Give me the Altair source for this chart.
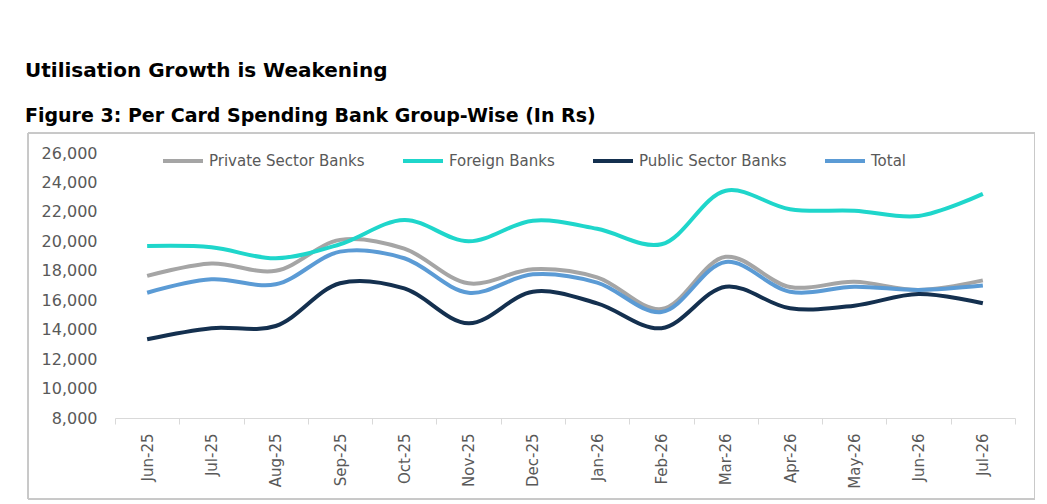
import altair as alt
import pandas as pd

months = ["Jun-25", "Jul-25", "Aug-25", "Sep-25", "Oct-25", "Nov-25", "Dec-25",
          "Jan-26", "Feb-26", "Mar-26", "Apr-26", "May-26", "Jun-26", "Jul-26"]
series_names = ["Private Sector Banks", "Foreign Banks", "Public Sector Banks", "Total"]
private = [17650, 18500, 18000, 20100, 19500, 17150, 18100, 17550, 15400, 18950, 16900, 17250, 16700, 17350]
foreign = [19680, 19600, 18850, 19800, 21450, 20000, 21400, 20850, 19800, 23440, 22180, 22080, 21720, 23220]
public = [13350, 14100, 14250, 17150, 16800, 14430, 16580, 15790, 14100, 16920, 15450, 15630, 16420, 15790]
total = [16510, 17420, 17080, 19300, 18850, 16510, 17760, 17200, 15200, 18600, 16580, 16920, 16700, 17000]
colors = ["#A5A5A5", "#1FD6CB", "#14304F", "#5B9BD5"]

rows = []
for name, vals in zip(series_names, [private, foreign, public, total]):
    for m, v in zip(months, vals):
        rows.append({"month": m, "series": name, "value": v})
df = pd.DataFrame(rows)

FONT = "DejaVu Sans"

lines = alt.Chart(df).mark_line(interpolate="catmull-rom", strokeWidth=4).encode(
    x=alt.X("month:N", sort=months, bandPosition=0.5,
            scale=alt.Scale(type="band", paddingInner=0, paddingOuter=0),
            axis=alt.Axis(title=None, labelAngle=270, tickBand="extent", domainColor="#D9D9D9",
                          tickColor="#D9D9D9", tickSize=6, labelPadding=9, labelFontSize=15,
                          labelColor="#595959", labelFont=FONT)),
    y=alt.Y("value:Q", scale=alt.Scale(domain=[8000, 26000], nice=False),
            axis=alt.Axis(title=None, values=list(range(8000, 26001, 2000)), format=",d",
                          domain=False, ticks=False, grid=False, labelPadding=18,
                          labelFontSize=16, labelColor="#595959", labelFont=FONT)),
    color=alt.Color("series:N", sort=series_names,
                    scale=alt.Scale(domain=series_names, range=colors),
                    legend=alt.Legend(title=None, orient="none", direction="horizontal",
                                      legendX=46, legendY=-14, symbolType="stroke",
                                      symbolSize=1600, symbolStrokeWidth=4, columnPadding=30,
                                      labelOffset=4, labelFontSize=15, labelColor="#595959",
                                      labelFont=FONT)),
    order=alt.Order("series:N"),
)

border = alt.Chart(df).mark_rect(fill="transparent", stroke="#C8C8C8", strokeWidth=1).encode(
    x=alt.value(-87), x2=alt.value(920), y=alt.value(-20), y2=alt.value(346)
)

chart = alt.layer(border, lines).properties(
    width=900, height=265,
    autosize=alt.AutoSizeParams(type="none"),
    padding={"left": 107, "top": 145, "right": 20, "bottom": 84},
    title=alt.TitleParams(
        text="Utilisation Growth is Weakening",
        subtitle="Figure 3: Per Card Spending Bank Group-Wise (In Rs)",
        anchor="start", frame="group", dx=-90, offset=7,
        font=FONT, fontSize=20, fontWeight="bold", color="#000000",
        subtitleFont=FONT, subtitleFontSize=19, subtitleFontWeight="bold",
        subtitleColor="#000000", subtitlePadding=26,
    ),
).configure(background="white").configure_view(stroke=None)

chart.save("out.html", embed_options={"renderer": "svg", "actions": False})
